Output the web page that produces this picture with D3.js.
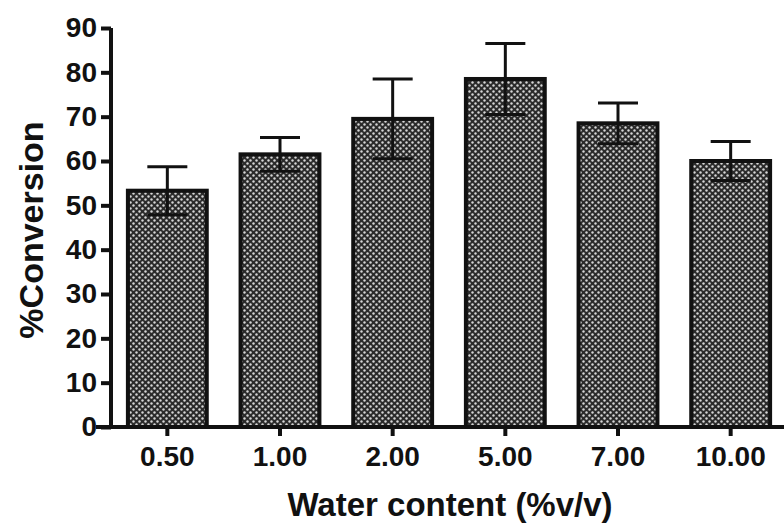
<!DOCTYPE html>
<html>
<head>
<meta charset="utf-8">
<script src="https://cdn.jsdelivr.net/npm/d3@7"></script>
<style>
  html, body { margin: 0; padding: 0; background: #fff; }
  svg text { font-family: "Liberation Sans", Arial, sans-serif; font-weight: 700; fill: #111; }
</style>
</head>
<body>
<div id="chart"></div>
<script>
// water content levels (% v/v) and conversion means / error (SD)
const categories = ["0.50", "1.00", "2.00", "5.00", "7.00", "10.00"];
const conversion = [53.3, 61.5, 69.5, 78.5, 68.5, 60.0];
const errors = [5.4, 3.8, 9.0, 8.0, 4.6, 4.4];
const yTicks = [0, 10, 20, 30, 40, 50, 60, 70, 80, 90];

const width = 784, height = 525;
const margin = { top: 28, right: -3, bottom: 98, left: 111 };

const svg = d3.select("#chart").append("svg")
  .attr("width", width)
  .attr("height", height);

const defs = svg.append("defs");
const pat = defs.append("pattern")
  .attr("id", "dots")
  .attr("patternUnits", "userSpaceOnUse")
  .attr("width", 6)
  .attr("height", 6);
pat.append("rect").attr("width", 6).attr("height", 6).attr("fill", "#2b2b2b");
pat.append("circle").attr("cx", 1.5).attr("cy", 1.5).attr("r", 1.2).attr("fill", "#d6d6d6");
pat.append("circle").attr("cx", 4.5).attr("cy", 4.5).attr("r", 1.2).attr("fill", "#d6d6d6");

const x = d3.scaleBand()
  .domain(categories)
  .range([margin.left, width - margin.right])
  .paddingInner(0.3)
  .paddingOuter(0.15);

const y = d3.scaleLinear()
  .domain([0, 90])
  .range([height - margin.bottom, margin.top]);

const data = categories.map((c, i) => ({ cat: c, value: conversion[i], err: errors[i] }));

// bars
svg.append("g")
  .selectAll("rect")
  .data(data)
  .join("rect")
  .attr("x", (d) => x(d.cat))
  .attr("y", (d) => y(d.value))
  .attr("width", x.bandwidth())
  .attr("height", (d) => y(0) - y(d.value))
  .attr("fill", "url(#dots)")
  .attr("stroke", "#111")
  .attr("stroke-width", 4);

// error bars
const eb = svg.append("g").attr("stroke", "#111").attr("stroke-width", 3);
const capW = 40;
const cx = (d) => x(d.cat) + x.bandwidth() / 2;
eb.selectAll("line.v")
  .data(data)
  .join("line")
  .attr("class", "v")
  .attr("x1", cx)
  .attr("x2", cx)
  .attr("y1", (d) => y(d.value + d.err))
  .attr("y2", (d) => y(d.value - d.err));
eb.selectAll("line.top")
  .data(data)
  .join("line")
  .attr("class", "top")
  .attr("x1", (d) => cx(d) - capW / 2)
  .attr("x2", (d) => cx(d) + capW / 2)
  .attr("y1", (d) => y(d.value + d.err))
  .attr("y2", (d) => y(d.value + d.err));
eb.selectAll("line.bot")
  .data(data)
  .join("line")
  .attr("class", "bot")
  .attr("x1", (d) => cx(d) - capW / 2)
  .attr("x2", (d) => cx(d) + capW / 2)
  .attr("y1", (d) => y(d.value - d.err))
  .attr("y2", (d) => y(d.value - d.err));

// y axis
const yAxis = svg.append("g")
  .attr("transform", `translate(${margin.left},0)`)
  .call(d3.axisLeft(y).tickValues(yTicks).tickSize(10).tickPadding(4).tickSizeOuter(0));
yAxis.select(".domain").attr("stroke", "#111").attr("stroke-width", 4)
  .attr("d", `M0,${y(0) + 2}V${y(90)}`);
yAxis.selectAll(".tick line").attr("stroke", "#111").attr("stroke-width", 4);
yAxis.selectAll(".tick text").attr("font-size", 28).attr("fill", "#111")
  .style("font-family", "'Liberation Sans', Arial, sans-serif").style("font-weight", 700);

// x axis
const xAxis = svg.append("g")
  .attr("transform", `translate(0,${y(0)})`)
  .call(d3.axisBottom(x).tickSize(9).tickPadding(10).tickSizeOuter(0));
xAxis.select(".domain").attr("stroke", "#111").attr("stroke-width", 4)
  .attr("d", `M${margin.left - 15},0H${width}`);
xAxis.selectAll(".tick line").attr("stroke", "#111").attr("stroke-width", 4);
xAxis.selectAll(".tick text").attr("font-size", 28).attr("fill", "#111")
  .style("font-family", "'Liberation Sans', Arial, sans-serif").style("font-weight", 700);

// axis titles
svg.append("text")
  .attr("x", 450)
  .attr("y", 516)
  .attr("text-anchor", "middle")
  .attr("font-size", 33)
  .text("Water content (%v/v)");

svg.append("text")
  .attr("transform", `translate(43,${230}) rotate(-90)`)
  .attr("text-anchor", "middle")
  .attr("font-size", 34)
  .text("%Conversion");
</script>
</body>
</html>
